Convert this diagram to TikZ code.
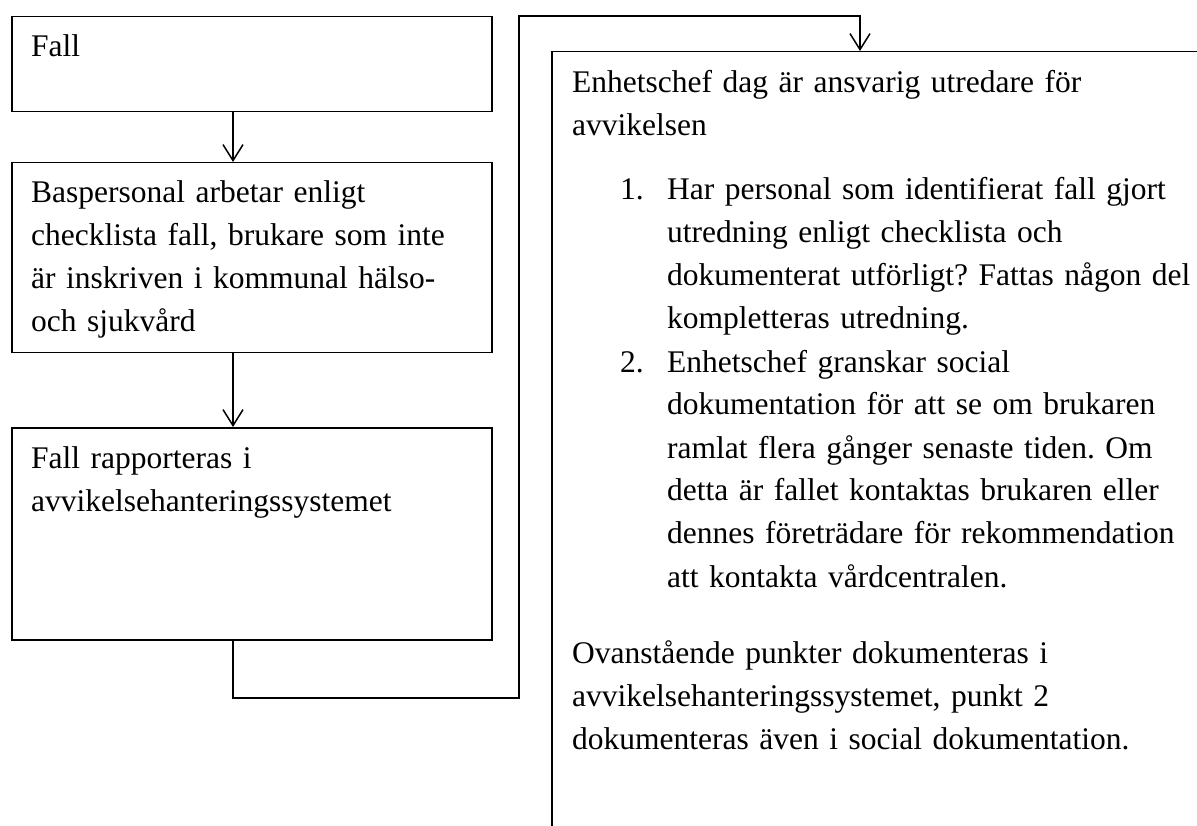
\documentclass[tikz,border=0pt]{standalone}
\usepackage{fontspec}
\setmainfont{Liberation Serif}
\usetikzlibrary{arrows.meta}
\frenchspacing

\tikzset{
  box/.style={draw, line width=1.5pt, rectangle, inner sep=0pt, anchor=north west},
  txt/.style={anchor=base west, inner sep=0pt, align=left, text width=620pt,
    font=\fontsize{31.5}{43}\selectfont},
  flow/.style={line width=1.5pt, -{Straight Barb[length=16pt,width=20pt]}},
}

\begin{document}
\begin{tikzpicture}[x=1pt,y=-1pt]
  \fill[white] (0,0) rectangle (1197,826);
  \useasboundingbox (0,0) rectangle (1197,826);
  \clip (0,0) rectangle (1197,826);

  % left column
  \node[box, minimum width=480pt, minimum height=95pt] (b1) at (11,16) {};
  \node[box, minimum width=480pt, minimum height=190pt] (b2) at (11,162) {};
  \node[box, minimum width=480pt, minimum height=212pt] (b3) at (11,427) {};
  \node[txt] (t1) at (31,57) {Fall};
  \node[txt] (t2) at (31,203) {Baspersonal arbetar enligt\\checklista fall, brukare som inte\\är inskriven i kommunal hälso-\\och sjukvård};
  \node[txt] (t3) at (31,468) {Fall rapporteras i\\avvikelsehanteringssystemet};

  % right box
  \node[box, minimum width=700pt, minimum height=820pt] (b4) at (551,51) {};
  \node[txt] (t4) at (572,93) {Enhetschef dag är ansvarig utredare för\\avvikelsen};
  \node[txt] (n1) at (620,200) {1.};
  \node[txt] (i1) at (667,200) {Har personal som identifierat fall gjort\\utredning enligt checklista och\\dokumenterat utförligt? Fattas någon del\\kompletteras utredning.};
  \node[txt] (n2) at (620,372) {2.};
  \node[txt] (i2) at (667,372) {Enhetschef granskar social\\dokumentation för att se om brukaren\\ramlat flera gånger senaste tiden. Om\\detta är fallet kontaktas brukaren eller\\dennes företrädare för rekommendation\\att kontakta vårdcentralen.};
  \node[txt] (t5) at (572,663) {Ovanstående punkter dokumenteras i\\avvikelsehanteringssystemet, punkt 2\\dokumenteras även i social dokumentation.};

  % connectors
  \coordinate (ax) at (233,0);
  \coordinate (k1) at (519,698);
  \coordinate (k2) at (519,16);
  \coordinate (in4) at ([xshift=309pt]b4.north west);
  \draw[flow] (b1.south -| ax) -- (b2.north -| ax);
  \draw[flow] (b2.south -| ax) -- (b3.north -| ax);
  \draw[flow] (b3.south -| ax) -- (ax |- k1) -- (k1) -- (k2) -- (k2 -| in4) -- (in4);
\end{tikzpicture}
\end{document}
